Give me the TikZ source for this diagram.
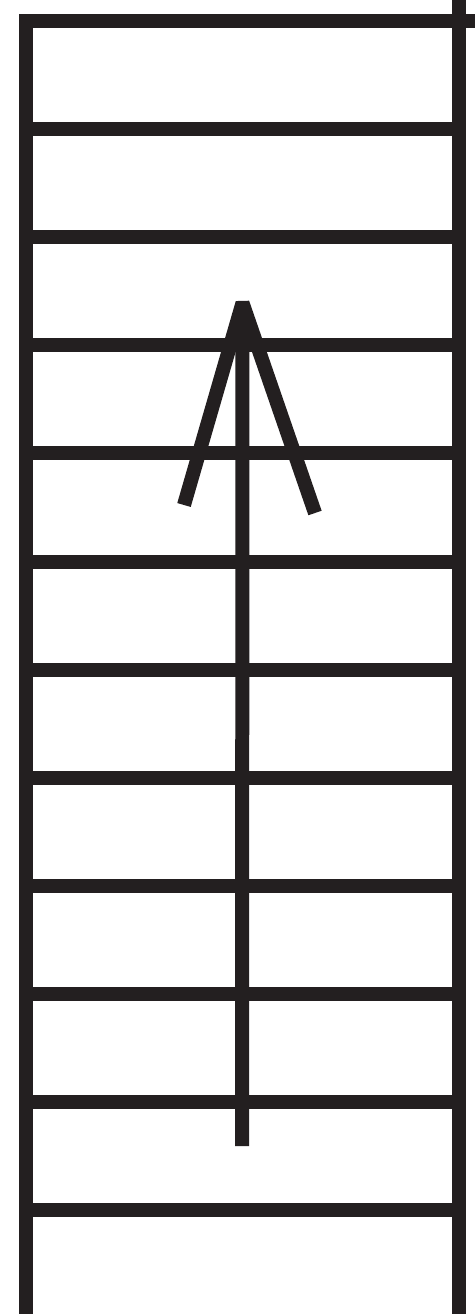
\documentclass[tikz,border=0pt]{standalone}
\usetikzlibrary{calc}
\definecolor{ink}{HTML}{231F20}
\tikzset{
  wall/.style={draw=ink,line width=0.28cm,line cap=butt,line join=miter},
  tread/.style={draw=ink,line width=0.28cm,line cap=butt},
  runline/.style={draw=ink,line width=0.28cm,line cap=butt,line join=bevel}
}
\begin{document}
\begin{tikzpicture}[x=0.02cm,y=-0.02cm]
    \useasboundingbox (0,0) rectangle (475,1314);
    \fill[white] (0,0) rectangle (475,1314);

    % stair outline
    \coordinate (lbot) at (26,1314);
    \coordinate (ltop) at (26,21);
    \coordinate (tright) at (475,21);
    \coordinate (rtop) at (458.5,0);
    \coordinate (rbot) at (458.5,1314);
    \draw[wall] (lbot) -- (ltop) -- (tright);
    \draw[wall] (rtop) -- (rbot);

    % treads
    \foreach \k in {1,...,11} {
      \draw[tread] (26,21+108.1*\k) -- (458.5,21+108.1*\k);
    }

    % walking line with arrow
    \coordinate (start) at (242,1146);
    \coordinate (tip) at (242.5,303);
    \coordinate (hl) at (184,505);
    \coordinate (hr) at (315,513);
    \draw[runline] (start) -- ($(tip)+(0,12)$);
    \draw[runline] (hl) -- (tip) -- (hr);
\end{tikzpicture}
\end{document}
